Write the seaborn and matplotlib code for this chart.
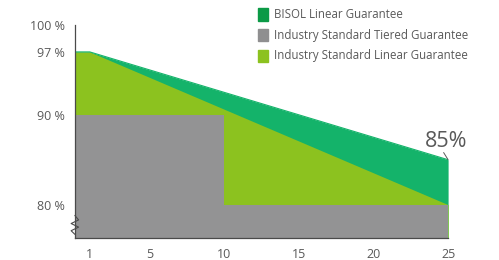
import matplotlib
matplotlib.use("Agg")
import numpy as np
import pandas as pd
import seaborn as sns
from matplotlib import pyplot as plt

# values
years = [0, 1, 25]
bisol_linear = [97, 97, 85]
industry_linear = [97, 97, 80]
tiered_years = [0, 10, 25]
industry_tiered = [90, 80, 80]

x_ticks = [1, 5, 10, 15, 20, 25]
y_ticks = [80, 90, 97, 100]
y_labels = ["80 %", "90 %", "97 %", "100 %"]

labels = ["BISOL Linear Guarantee",
          "Industry Standard Tiered Guarantee",
          "Industry Standard Linear Guarantee"]
fill_colors = ["#14b36a", "#939394", "#8cc21f"]
legend_colors = ["#0b9a46", "#8f8f90", "#8cc21f"]
text_color = "#595959"

sns.set_style("white")
plt.rcParams["font.family"] = ["Open Sans", "DejaVu Sans"]

fig = plt.figure(figsize=(4.99, 2.6), dpi=100)
ax = fig.add_axes([0.150, 0.085, 0.748, 0.819])

y_min = 76.3
df = pd.DataFrame({"year": years, "bisol": bisol_linear, "linear": industry_linear})

ax.fill_between(df["year"], y_min, df["bisol"], color=fill_colors[0], lw=0)
ax.fill_between(df["year"], y_min, df["linear"], color=fill_colors[2], lw=0)
ax.fill_between(tiered_years, y_min, industry_tiered, step="post",
                color=fill_colors[1], lw=0)
sns.lineplot(data=df, x="year", y="bisol", ax=ax, color=fill_colors[0], lw=0.8)

ax.set_xlim(0, 25)
ax.set_ylim(y_min, 100)
ax.set_xticks([0] + x_ticks)
ax.set_xticklabels([""] + [str(t) for t in x_ticks])
ax.set_yticks(y_ticks)
ax.set_yticklabels(y_labels)
ax.set_xlabel("")
ax.set_ylabel("")

for side in ["top", "right"]:
    ax.spines[side].set_visible(False)
for side in ["left", "bottom"]:
    ax.spines[side].set_color("#4a4a4a")
    ax.spines[side].set_linewidth(0.9)
ax.tick_params(axis="both", direction="out", length=5, width=0.9,
               color="#4a4a4a", labelcolor=text_color, labelsize=9, pad=2)

# axis break mark
zx = np.array([0, 0.25, -0.25, 0.25, -0.25, 0])
zy = np.array([78.8, 78.3, 77.9, 77.5, 77.1, 76.7])
ax.plot(zx, zy, color="#4a4a4a", lw=0.8, clip_on=False)

# end value callout
ax.plot([25, 24.7], [85, 85.8], color=text_color, lw=0.7, clip_on=False)
ax.text(24.9, 85.9, "85%", fontsize=15.5, color=text_color, ha="center", va="bottom")

# legend
for i, (lab, col) in enumerate(zip(labels, legend_colors)):
    y = 0.945 - i * 0.08
    fig.patches.append(plt.Rectangle((0.517, y - 0.024), 0.021, 0.048,
                                     transform=fig.transFigure, color=col))
    fig.text(0.550, y, lab, fontsize=8.3, color=text_color, va="center")

fig.savefig("out.png", dpi=100)
